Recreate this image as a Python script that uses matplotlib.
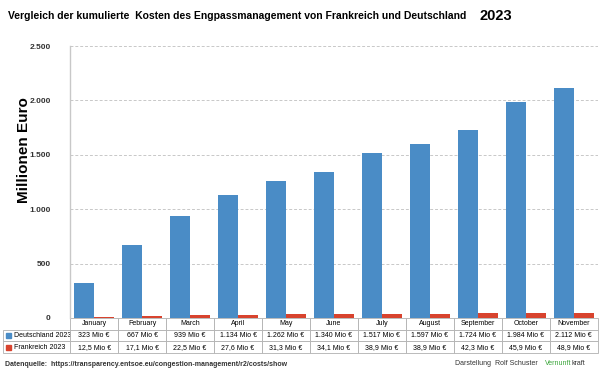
import matplotlib.pyplot as plt
import numpy as np
from matplotlib.patches import Rectangle

months = ['January', 'February', 'March', 'April', 'May', 'June', 'July',
          'August', 'September', 'October', 'November']
deutschland = [323, 667, 939, 1134, 1262, 1340, 1517, 1597, 1724, 1984, 2112]
frankreich = [12.5, 17.1, 22.5, 27.6, 31.3, 34.1, 38.9, 38.9, 42.3, 45.9, 48.9]
de_labels = ['323 Mio €', '667 Mio €', '939 Mio €', '1.134 Mio €', '1.262 Mio €', '1.340 Mio €',
             '1.517 Mio €', '1.597 Mio €', '1.724 Mio €', '1.984 Mio €', '2.112 Mio €']
fr_labels = ['12,5 Mio €', '17,1 Mio €', '22,5 Mio €', '27,6 Mio €', '31,3 Mio €', '34,1 Mio €',
             '38,9 Mio €', '38,9 Mio €', '42,3 Mio €', '45,9 Mio €', '48,9 Mio €']
yticks = [0, 500, 1000, 1500, 2000, 2500]
ytick_labels = ['0', '500', '1.000', '1.500', '2.000', '2.500']

BLUE = '#4a8cc6'
RED = '#d8432e'

plt.rcParams['font.family'] = ['Liberation Sans Narrow', 'Liberation Sans', 'DejaVu Sans']

fig = plt.figure(figsize=(6.05, 3.74), dpi=100)
ax = fig.add_axes([0.116, 0.150, 0.872, 0.727])

x = np.arange(len(months))
w = 0.42
ax.bar(x - w / 2, deutschland, w, color=BLUE, zorder=3)
ax.bar(x + w / 2, frankreich, w, color=RED, zorder=3)

ax.set_xlim(-0.5, len(months) - 0.5)
ax.set_ylim(0, 2500)
ax.set_yticks(yticks)
ax.set_yticklabels(ytick_labels, fontsize=6, fontweight='bold', color='#333333')
ax.set_xticks([])
ax.tick_params(axis='y', length=0, pad=14)
ax.grid(axis='y', linestyle=(0, (3, 2)), color='#c8c8c8', linewidth=0.7, zorder=0)
for s in ['top', 'right', 'bottom']:
    ax.spines[s].set_visible(False)
ax.spines['left'].set_color('#c8c8c8')
ax.spines['left'].set_linewidth(1.0)

fig.text(0.039, 0.6, 'Millionen Euro', fontsize=11, fontweight='bold', family='Liberation Sans',
         rotation=90, va='center', ha='center')

# table below the axes
rows = [['Deutschland 2023'] + de_labels, ['Frankreich 2023'] + fr_labels]
lab_w = 67 / 528
tbl_h = 35 / 272
tbl = ax.table(cellText=rows, colLabels=[''] + months, cellLoc='center',
               bbox=[-lab_w, -tbl_h, 1 + lab_w, tbl_h])
tbl.auto_set_font_size(False)
tbl.set_fontsize(5)
widths = [lab_w / (1 + lab_w)] + [1 / (1 + lab_w) / len(months)] * len(months)
for (r, c), cell in tbl.get_celld().items():
    cell.set_edgecolor('#b0b0b0')
    cell.set_linewidth(0.6)
    cell.set_width(widths[c])
    if r == 0 and c == 0:
        cell.visible_edges = ''
    if c == 0 and r > 0:
        cell._loc = 'left'
        cell.PAD = 0.16
        cell.get_text().set_ha('left')
        cell.get_text().set_fontsize(5)

# legend keys inside the row label cells
for i, col in enumerate([BLUE, RED]):
    yk = -tbl_h * (i + 1.5) / 3
    ax.add_patch(Rectangle((-lab_w + 0.006, yk - 0.009), 0.008, 0.018, color=col,
                           transform=ax.transAxes, clip_on=False, zorder=5))

fig.text(0.013, 0.957, 'Vergleich der kumulierte  Kosten des Engpassmanagement von Frankreich und Deutschland',
         fontsize=7.5, fontweight='bold', va='center', ha='left')
fig.text(0.793, 0.957, '2023', fontsize=10.5, fontweight='bold', va='center', ha='left')

fig.text(0.008, 0.015, 'Datenquelle:  https://transparency.entsoe.eu/congestion-management/r2/costs/show',
         fontsize=5, fontweight='bold', color='#333333', va='bottom', ha='left')
fig.text(0.752, 0.02, 'Darstellung  Rolf Schuster', fontsize=5, color='#333333', va='bottom', ha='left')
fig.text(0.9, 0.02, 'Vernunft', fontsize=5, color='#3aa63a', va='bottom', ha='left')
fig.text(0.944, 0.02, 'kraft', fontsize=5, color='#333333', va='bottom', ha='left')

fig.savefig('out.png', dpi=100)
